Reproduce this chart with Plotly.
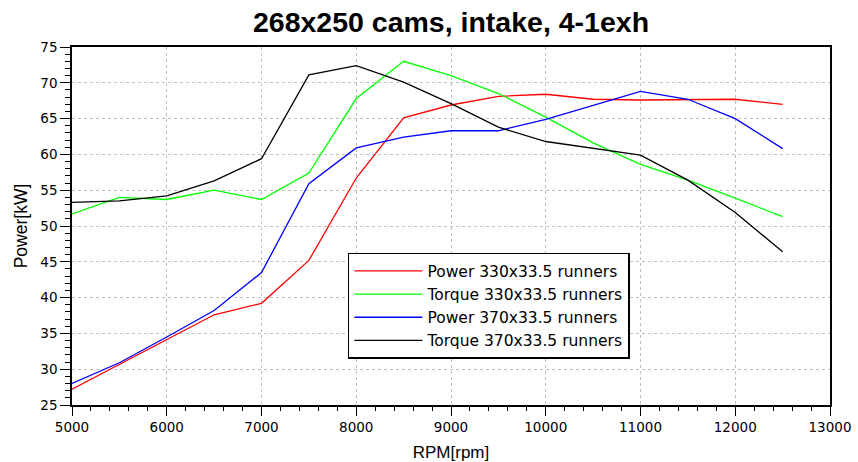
import plotly.graph_objects as go

rpm = [5000, 5500, 6000, 6500, 7000, 7500, 8000, 8500, 9000, 9500, 10000, 10500, 11000, 11500, 12000, 12500]
power_330 = [27.2, 30.7, 34.1, 37.6, 39.2, 45.2, 56.7, 65.1, 66.9, 68.1, 68.4, 67.7, 67.6, 67.7, 67.7, 67.0]
torque_330 = [51.7, 54.0, 53.7, 55.0, 53.7, 57.4, 67.8, 73.0, 71.0, 68.5, 65.2, 61.6, 58.6, 56.4, 53.9, 51.3]
power_370 = [28.0, 30.9, 34.5, 38.2, 43.5, 55.9, 60.9, 62.4, 63.3, 63.3, 64.9, 66.9, 68.8, 67.7, 65.0, 60.8]
torque_370 = [53.3, 53.5, 54.2, 56.3, 59.4, 71.1, 72.4, 70.1, 67.1, 63.8, 61.8, 60.9, 59.9, 56.4, 51.9, 46.4]

series = [
    ("Power 330x33.5 runners", power_330, "#ff0000"),
    ("Torque 330x33.5 runners", torque_330, "#00ff00"),
    ("Power 370x33.5 runners", power_370, "#0000ff"),
    ("Torque 370x33.5 runners", torque_370, "#000000"),
]

fig = go.Figure()
for i, (name, vals, col) in enumerate(series):
    fig.add_trace(go.Scatter(x=rpm, y=vals, mode="lines", name=name,
                             legendgroup=f"g{i}",
                             line=dict(color=col, width=1.3)))

title_font = "Liberation Sans, Arial, sans-serif"
tick_font = "DejaVu Sans, Verdana, sans-serif"

fig.update_layout(
    width=858, height=462,
    margin=dict(l=72, r=28, t=47, b=57, autoexpand=False),
    paper_bgcolor="white", plot_bgcolor="white",
    title=dict(text="<b>268x250 cams, intake, 4-1exh</b>", xref="paper", x=0.5, xanchor="center",
               yref="container", y=0.952, yanchor="middle",
               font=dict(family=title_font, size=28.5, color="black")),
    font=dict(family=tick_font, size=13, color="black"),
    legend=dict(x=0.364, y=0.425, xanchor="left", yanchor="top",
                bgcolor="white", bordercolor="black", borderwidth=1.5,
                font=dict(family=tick_font, size=15.5, color="black"),
                itemwidth=68, tracegroupgap=7, traceorder="normal"),
    showlegend=True,
)

fig.update_xaxes(
    range=[5000, 13000], dtick=1000, tick0=5000, tickformat="d",
    automargin=False,
    showgrid=True, gridcolor="#c0c0c0", griddash="dot", gridwidth=1,
    showline=True, linecolor="black", linewidth=1.5, mirror=True,
    ticks="outside", ticklen=9, tickcolor="black",
    minor=dict(dtick=200, ticks="outside", ticklen=4, tickcolor="black", showgrid=False),
    zeroline=False,
    tickfont=dict(family=tick_font, size=13.5),
    title=dict(text="RPM[rpm]", font=dict(family=title_font, size=17), standoff=14),
)
fig.update_yaxes(
    range=[25, 75], dtick=5, tick0=25,
    automargin=False,
    showgrid=True, gridcolor="#c0c0c0", griddash="dot", gridwidth=1,
    showline=True, linecolor="black", linewidth=1.5, mirror=True,
    ticks="outside", ticklen=10, tickcolor="black",
    minor=dict(dtick=1, ticks="outside", ticklen=5, tickcolor="black", showgrid=False),
    zeroline=False,
    tickfont=dict(family=tick_font, size=13.5),
    title=dict(text="Power[kW]", font=dict(family=title_font, size=17.5), standoff=8),
)

fig.write_html("out.html")
